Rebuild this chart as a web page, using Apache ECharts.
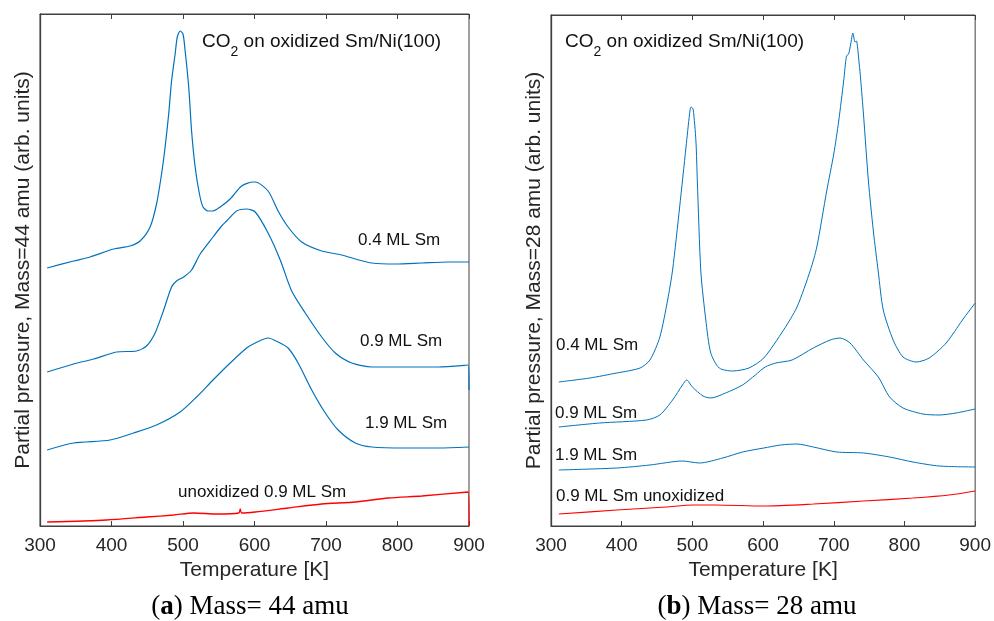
<!DOCTYPE html>
<html>
<head>
<meta charset="utf-8">
<script src="https://cdn.jsdelivr.net/npm/echarts@6/dist/echarts.min.js"></script>
<style>
  html, body { margin: 0; padding: 0; background: #fff; }
  #chart { width: 994px; height: 621px; }
</style>
</head>
<body>
<div id="chart"></div>
<script>
// temperature ticks
var tempTicks = [300, 400, 500, 600, 700, 800, 900];

// (a) mass 44 amu, [T (K), signal (arb.)]
var m44_04 = [[310,258],[347,265],[370,269],[403,277],[426,280],[440,285],[454,299],[463,322],[470,352],[475,379],[480,412],[484,445],[489,472],[492,489],[496,495],[500,492],[503,475],[508,439],[512,395],[517,359],[523,332],[528,319],[535,315],[542,315],[552,319],[566,327],[582,340],[598,344],[601,344],[619,335],[633,315],[647,299],[666,284],[694,275],[722,271],[741,267],[764,263],[797,262],[834,263],[871,264],[900,264]];
var m44_09 = [[310,154],[347,162],[375,167],[407,174],[435,175],[449,180],[461,193],[473,216],[484,239],[491,245],[501,249],[512,256],[524,272],[542,289],[554,300],[561,305],[575,315],[589,317],[601,314],[619,293],[636,266],[652,235],[671,213],[694,189],[713,173],[736,163],[764,159],[811,159],[857,159],[899,161],[900,136]];
var m44_19 = [[310,76],[347,83],[398,86],[431,93],[463,101],[496,114],[519,129],[542,146],[566,163],[589,178],[601,183],[619,188],[633,184],[647,178],[661,163],[680,136],[699,113],[717,96],[741,83],[764,79],[811,78],[857,78],[900,79]];
var m44_unox = [[310,4],[393,6],[449,9],[487,11],[515,13],[547,12],[578,13],[580,17],[582,13],[601,14],[647,18],[694,22],[741,24],[787,28],[834,30],[899,34],[900,0]];

// (b) mass 28 amu
var m28_04 = [[311,144],[355,148],[393,153],[426,158],[440,166],[454,189],[465,226],[472,256],[482,319],[491,379],[496,412],[498,419],[501,417],[505,385],[507,345],[512,254],[519,206],[526,173],[538,158],[557,155],[580,158],[601,168],[629,196],[648,219],[667,256],[676,279],[690,335],[700,372],[707,405],[714,445],[718,470],[721,472],[724,482],[727,493],[730,484],[732,485],[736,462],[738,447],[742,412],[749,345],[756,295],[763,254],[770,216],[784,186],[798,169],[817,164],[835,168],[859,183],[882,206],[900,223]];
var m28_09 = [[311,99],[369,103],[435,106],[454,111],[472,126],[486,141],[492,146],[500,139],[515,130],[526,128],[547,133],[571,141],[589,151],[603,159],[618,163],[641,166],[671,178],[695,186],[709,188],[723,183],[742,166],[763,149],[779,129],[798,118],[826,112],[849,111],[873,113],[900,117]];
var m28_19 = [[311,56],[393,58],[440,61],[486,65],[510,63],[543,68],[571,74],[601,78],[625,81],[648,82],[671,79],[704,74],[742,73],[779,69],[812,64],[849,60],[900,59]];
var m28_unox = [[311,12],[393,16],[463,19],[500,21],[533,21],[601,20],[671,22],[742,25],[812,28],[863,31],[900,35]];

var labels44 = ['0.4 ML Sm', '0.9 ML Sm', '1.9 ML Sm', 'unoxidized 0.9 ML Sm'];
var labels28 = ['0.4 ML Sm', '0.9 ML Sm', '1.9 ML Sm', '0.9 ML Sm unoxidized'];

var BLUE = '#0072BD';
var RED = '#FF0000';
var AXIS = '#404040';
var TEXT = '#262626';
var FONT = 'Liberation Sans';

function xAxes(gridIndex) {
    return [
        {
            gridIndex: gridIndex, type: 'value', min: 300, max: 900, interval: 100,
            axisLine: { show: true, lineStyle: { color: AXIS, width: 1 } },
            axisTick: { show: true, inside: true, length: 5, lineStyle: { color: AXIS } },
            axisLabel: { color: TEXT, fontSize: 19, fontFamily: FONT, margin: 10 },
            splitLine: { show: false },
            name: 'Temperature [K]', nameLocation: 'middle', nameGap: 34,
            nameTextStyle: { color: TEXT, fontSize: 21, fontFamily: FONT }
        },
        {
            gridIndex: gridIndex, type: 'value', position: 'top', min: 300, max: 900, interval: 100,
            axisLine: { show: true, lineStyle: { color: AXIS, width: 1 } },
            axisTick: { show: true, inside: true, length: 5, lineStyle: { color: AXIS } },
            axisLabel: { show: false },
            splitLine: { show: false }
        }
    ];
}

function yAxis(gridIndex, max, name) {
    return {
        gridIndex: gridIndex, type: 'value', min: 0, max: max,
        axisLine: { show: true, lineStyle: { color: AXIS, width: 1.3 } },
        axisTick: { show: false },
        axisLabel: { show: false },
        splitLine: { show: false },
        name: name, nameLocation: 'middle', nameRotate: 90, nameGap: 6,
        nameTextStyle: { color: TEXT, fontSize: 21, fontFamily: FONT }
    };
}

function line(data, color, xi, yi, width) {
    return {
        type: 'line', data: data, xAxisIndex: xi, yAxisIndex: yi,
        showSymbol: false, symbol: 'none', smooth: 0.25,
        lineStyle: { color: color, width: width }, silent: true
    };
}

function txt(x, y, text, size) {
    return {
        type: 'text', x: x, y: y, silent: true,
        style: { text: text, fill: '#111', font: size + 'px "' + FONT + '"', textAlign: 'left', textVerticalAlign: 'middle' }
    };
}

function co2(x, y) {
    return {
        type: 'text', x: x, y: y, silent: true,
        style: {
            text: '{n|CO}{s|2}{n| on oxidized Sm/Ni(100)}',
            textAlign: 'left', textVerticalAlign: 'middle',
            rich: {
                n: { fontSize: 19, fontFamily: FONT, fill: '#111' },
                s: { fontSize: 14, fontFamily: FONT, fill: '#111', padding: [20, 0, 0, 0] }
            }
        }
    };
}

function caption(x, y, letter, rest) {
    return {
        type: 'text', x: x, y: y, silent: true,
        style: {
            text: '{r|(}{b|' + letter + '}{r|) ' + rest + '}',
            textAlign: 'center', textVerticalAlign: 'middle',
            rich: {
                r: { fontSize: 27, fontFamily: 'Liberation Serif', fill: '#000' },
                b: { fontSize: 27, fontFamily: 'Liberation Serif', fontWeight: 'bold', fill: '#000' }
            }
        }
    };
}

var chart = echarts.init(document.getElementById('chart'), null, { renderer: 'canvas' });
chart.setOption({
    animation: false,
    backgroundColor: '#fff',
    grid: [
        { left: 40, top: 14, width: 429, height: 512, show: true, borderColor: AXIS, borderWidth: 1, backgroundColor: 'transparent' },
        { left: 551, top: 15, width: 427, height: 511, show: true, borderColor: AXIS, borderWidth: 1, backgroundColor: 'transparent' }
    ],
    xAxis: xAxes(0).concat(xAxes(1)),
    yAxis: [
        yAxis(0, 512, 'Partial pressure, Mass=44 amu (arb. units)'),
        yAxis(1, 511, 'Partial pressure, Mass=28 amu (arb. units)')
    ],
    series: [
        line(m44_04, BLUE, 0, 0, 1.2),
        line(m44_09, BLUE, 0, 0, 1.2),
        line(m44_19, BLUE, 0, 0, 1.2),
        line(m44_unox, RED, 0, 0, 1.3),
        line(m28_04, BLUE, 2, 1, 1),
        line(m28_09, BLUE, 2, 1, 1),
        line(m28_19, BLUE, 2, 1, 1),
        line(m28_unox, RED, 2, 1, 1.2)
    ],
    graphic: [
        co2(202, 42),
        txt(358, 240, labels44[0], 17),
        txt(360, 341, labels44[1], 17),
        txt(365, 423, labels44[2], 17),
        txt(178, 492, labels44[3], 17),
        co2(565, 42),
        txt(556, 345, labels28[0], 17),
        txt(555, 413, labels28[1], 17),
        txt(555, 455, labels28[2], 17),
        txt(556, 496, labels28[3], 17),
        caption(250, 607, 'a', 'Mass= 44 amu'),
        caption(757, 607, 'b', 'Mass= 28 amu')
    ]
});
</script>
</body>
</html>
